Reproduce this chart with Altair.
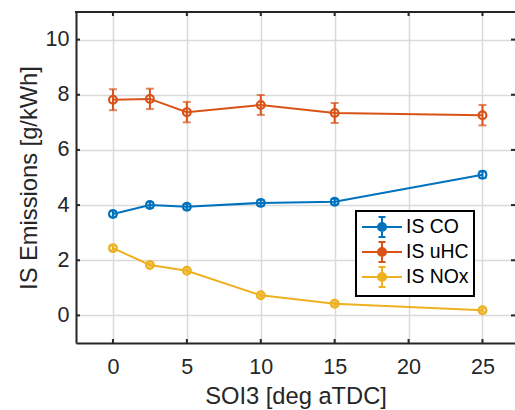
import altair as alt
import pandas as pd

# ---- data ----
soi3 = [0, 2.5, 5, 10, 15, 25]
series_names = ["IS CO", "IS uHC", "IS NOx"]
co = [3.68, 4.00, 3.94, 4.08, 4.12, 5.10]
co_err = [0.10, 0.10, 0.10, 0.10, 0.10, 0.12]
uhc = [7.82, 7.85, 7.37, 7.63, 7.34, 7.26]
uhc_err = [0.38, 0.37, 0.37, 0.36, 0.36, 0.37]
nox = [2.44, 1.83, 1.62, 0.73, 0.42, 0.19]
nox_err = [0.07, 0.06, 0.06, 0.06, 0.06, 0.06]
colors = ["#0072BD", "#D95319", "#EDB120"]

x_ticks = [0, 5, 10, 15, 20, 25]
y_ticks = [0, 2, 4, 6, 8, 10]
x_domain = [-2.5, 27.2]
y_domain = [-1, 11]

W, H = 439, 331
FONT = "Liberation Sans"
TXT = "#262626"

rows = []
for name, vals, errs in zip(series_names, [co, uhc, nox], [co_err, uhc_err, nox_err]):
    for x, v, e in zip(soi3, vals, errs):
        rows.append({"soi": x, "val": v, "lo": v - e, "hi": v + e, "series": name})
df = pd.DataFrame(rows)

legend_path = ("M-1,0L0.6,0 M1.4,0L3,0 "
               "M1,-1.0L1,-0.4 M1,0.4L1,1.0 M0.65,-1.0L1.35,-1.0 M0.65,1.0L1.35,1.0 "
               "M1.4,0 A0.4,0.4 0 1,1 0.6,0 A0.4,0.4 0 1,1 1.4,0")

color = alt.Color(
    "series:N",
    scale=alt.Scale(domain=series_names, range=colors),
    legend=alt.Legend(
        title=None,
        orient="none",
        legendX=280,
        legendY=199,
        direction="vertical",
        strokeColor="#000000",
        fillColor="white",
        padding=5,
        symbolType=legend_path,
        symbolSize=400,
        symbolStrokeWidth=2,
        symbolFillColor="transparent",
        labelFont=FONT,
        labelFontSize=19.4,
        labelColor="#000000",
        labelOffset=23,
        rowPadding=-3.5,
    ),
)

xs = alt.Scale(domain=x_domain, nice=False, zero=False)
ys = alt.Scale(domain=y_domain, nice=False, zero=False)

x_enc = alt.X(
    "soi:Q", scale=xs,
    axis=alt.Axis(values=x_ticks, title="SOI3 [deg aTDC]", grid=True, ticks=False, tickSize=0,
                  labelPadding=13, titlePadding=7, format="d"),
)
y_enc = alt.Y(
    "val:Q", scale=ys,
    axis=alt.Axis(values=y_ticks, title="IS Emissions [g/kWh]", grid=True, ticks=False, tickSize=0,
                  labelPadding=7, titlePadding=4, format="d"),
)

base = alt.Chart(df)
cnl = alt.Color("series:N", scale=alt.Scale(domain=series_names, range=colors), legend=None)

lines = base.mark_line(strokeWidth=2).encode(x=x_enc, y=y_enc, color=color)
bars = base.mark_rule(strokeWidth=2).encode(
    x=alt.X("soi:Q", scale=xs), y=alt.Y("lo:Q", scale=ys), y2="hi:Q", color=cnl)
caps_lo = base.mark_tick(size=8, thickness=2, orient="horizontal").encode(
    x=alt.X("soi:Q", scale=xs), y=alt.Y("lo:Q", scale=ys), color=cnl)
caps_hi = base.mark_tick(size=8, thickness=2, orient="horizontal").encode(
    x=alt.X("soi:Q", scale=xs), y=alt.Y("hi:Q", scale=ys), color=cnl)
points = base.mark_point(filled=False, size=60, strokeWidth=2.2, opacity=1).encode(
    x=alt.X("soi:Q", scale=xs), y=alt.Y("val:Q", scale=ys), color=cnl)

# frame: top border (bottom and left are axis domains)
top_border = alt.Chart(pd.DataFrame({"a": [0]})).mark_rule(color=TXT, strokeWidth=2).encode(
    y=alt.value(0), x=alt.value(-1), x2=alt.value(W + 2))

# inward ticks
xt = pd.DataFrame({"t": x_ticks})
yt = pd.DataFrame({"t": y_ticks})
xt_bottom = alt.Chart(xt).mark_rule(color=TXT, strokeWidth=2).encode(
    x=alt.X("t:Q", scale=xs), y=alt.value(H), y2=alt.value(H - 4))
xt_top = alt.Chart(xt).mark_rule(color=TXT, strokeWidth=2).encode(
    x=alt.X("t:Q", scale=xs), y=alt.value(0), y2=alt.value(4))
yt_left = alt.Chart(yt).mark_rule(color=TXT, strokeWidth=2).encode(
    y=alt.Y("t:Q", scale=ys), x=alt.value(0), x2=alt.value(4))
yt_right = alt.Chart(yt).mark_rule(color=TXT, strokeWidth=2).encode(
    y=alt.Y("t:Q", scale=ys), x=alt.value(W - 4), x2=alt.value(W))

chart = alt.layer(
    lines, bars, caps_lo, caps_hi, points,
    top_border, xt_bottom, xt_top, yt_left, yt_right,
).properties(
    width=W, height=H,
    padding={"left": 76, "top": 12, "right": 0, "bottom": 67},
    autosize=alt.AutoSizeParams(type="none"),
    background="white",
).configure_view(
    stroke=None,
).configure_legend(
    strokeWidth=2,
).configure_axis(
    gridColor="#dadada",
    gridWidth=1.5,
    domainColor=TXT,
    domainWidth=2,
    labelFont=FONT,
    labelFontSize=21.5,
    labelColor=TXT,
    titleFont=FONT,
    titleFontSize=23.7,
    titleFontWeight="normal",
    titleColor=TXT,
)

chart.save("out.html", embed_options={"renderer": "svg", "actions": False})
